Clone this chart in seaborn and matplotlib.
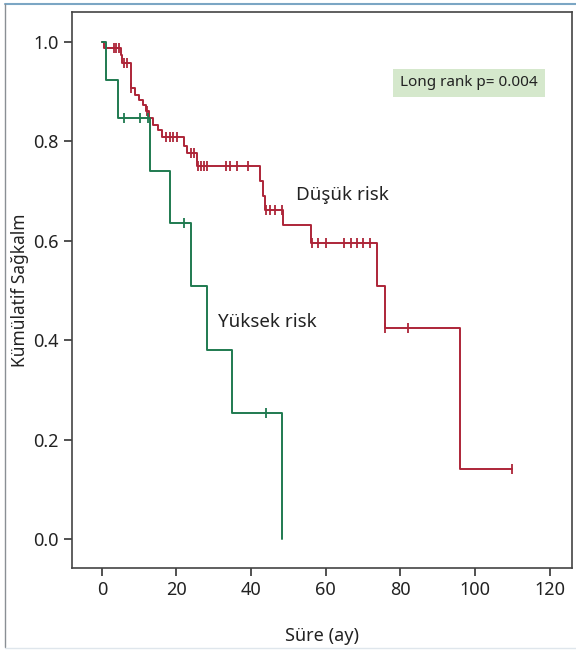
import numpy as np
import pandas as pd
import matplotlib
matplotlib.use('Agg')
import matplotlib.pyplot as plt
from matplotlib.lines import Line2D
import seaborn as sns

# step curve of the low risk group (months, cumulative survival)
low_times = [0, 0.5, 5.0, 5.5, 7.8, 9.0, 9.9, 10.9, 11.7, 12.6, 13.7, 15.0, 16.1,
             22.0, 22.9, 25.4, 42.4, 43.2, 43.7, 48.6, 56.0, 73.8, 76.0, 96.0, 110.0]
low_surv = [1.0, 0.987, 0.973, 0.958, 0.906, 0.892, 0.883, 0.872, 0.860, 0.846, 0.832,
            0.822, 0.808, 0.790, 0.777, 0.750, 0.720, 0.690, 0.662, 0.631, 0.596,
            0.509, 0.424, 0.141, 0.141]
low_censored = [3.3, 3.9, 4.6, 6.0, 6.8, 7.8, 12.2, 17.3, 18.2, 19.2, 20.2, 24.0, 24.8,
                25.8, 26.5, 27.3, 28.2, 33.4, 34.3, 36.1, 39.2, 43.9, 45.0, 46.4, 48.2,
                56.2, 58.0, 60.0, 64.9, 66.7, 68.3, 70.0, 71.8, 76.0, 82.0, 110.0]

# step curve of the high risk group
high_times = [0, 1.0, 4.2, 13.0, 18.2, 24.0, 28.2, 35.0, 48.2]
high_surv = [1.0, 0.923, 0.846, 0.740, 0.635, 0.508, 0.381, 0.254, 0.0]
high_censored = [6.0, 10.2, 12.4, 22.0, 44.1]

RED = '#ad2538'
GREEN = '#1f7a50'


def censor_points(times, surv, cens):
    idx = np.searchsorted(times, cens, side='right') - 1
    return pd.DataFrame({'t': cens, 's': np.asarray(surv)[idx]})


def create_plot():
    sns.set_style('ticks')
    plt.rcParams['font.family'] = ['Noto Sans', 'DejaVu Sans']

    fig = plt.figure(figsize=(5.76, 6.54), dpi=100)
    ax = fig.add_axes([0.125, 0.1315, 0.868, 0.8505])

    low_df = pd.DataFrame({'t': low_times, 's': low_surv})
    high_df = pd.DataFrame({'t': high_times, 's': high_surv})

    sns.lineplot(data=low_df, x='t', y='s', ax=ax, color=RED, lw=1.4,
                 drawstyle='steps-post', estimator=None, sort=False)
    sns.lineplot(data=high_df, x='t', y='s', ax=ax, color=GREEN, lw=1.4,
                 drawstyle='steps-post', estimator=None, sort=False)

    sns.scatterplot(data=censor_points(low_times, low_surv, low_censored), x='t', y='s',
                    ax=ax, marker='|', s=50, color=RED, linewidth=1.3, zorder=3)
    sns.scatterplot(data=censor_points(high_times, high_surv, high_censored), x='t', y='s',
                    ax=ax, marker='|', s=50, color=GREEN, linewidth=1.3, zorder=3)

    ax.set_xlim(-8, 126)
    ax.set_ylim(-0.058, 1.06)
    ax.set_xticks(range(0, 121, 20))
    ax.set_yticks([0.0, 0.2, 0.4, 0.6, 0.8, 1.0])
    ax.set_yticklabels(['0.0', '0.2', '0.4', '0.6', '0.8', '1.0'])
    ax.tick_params(labelsize=13, length=6, width=1.2, color='#333333', labelcolor='#222222')
    for sp in ax.spines.values():
        sp.set_color('#444444')
        sp.set_linewidth(1.2)

    ax.set_xlabel('Süre (ay)', fontsize=13, color='#222222', labelpad=20)
    ax.set_ylabel('Kümülatif Sağkalm', fontsize=12.5, color='#222222', labelpad=3)

    ax.text(52, 0.692, 'Düşük risk', fontsize=13.5, color='#222222', va='center')
    ax.text(31, 0.437, 'Yüksek risk', fontsize=13.5, color='#222222', va='center')
    ax.text(80, 0.917, 'Long rank p= 0.004', fontsize=11, color='#222222', va='center',
            bbox=dict(boxstyle='square,pad=0.45', fc='#d5e8cc', ec='none'))

    # outer frame lines of the figure panel
    fig.add_artist(Line2D([0.009, 1.0], [0.994, 0.994], color='#7ba6c4', lw=1.5))
    fig.add_artist(Line2D([0.009, 0.009], [0.01, 0.994], color='#8a8f94', lw=1.0))
    fig.add_artist(Line2D([0.009, 1.0], [0.009, 0.009], color='#dfe6ec', lw=1.0))

    fig.savefig('out.png', dpi=100)
    plt.close(fig)


if __name__ == "__main__":
    create_plot()
